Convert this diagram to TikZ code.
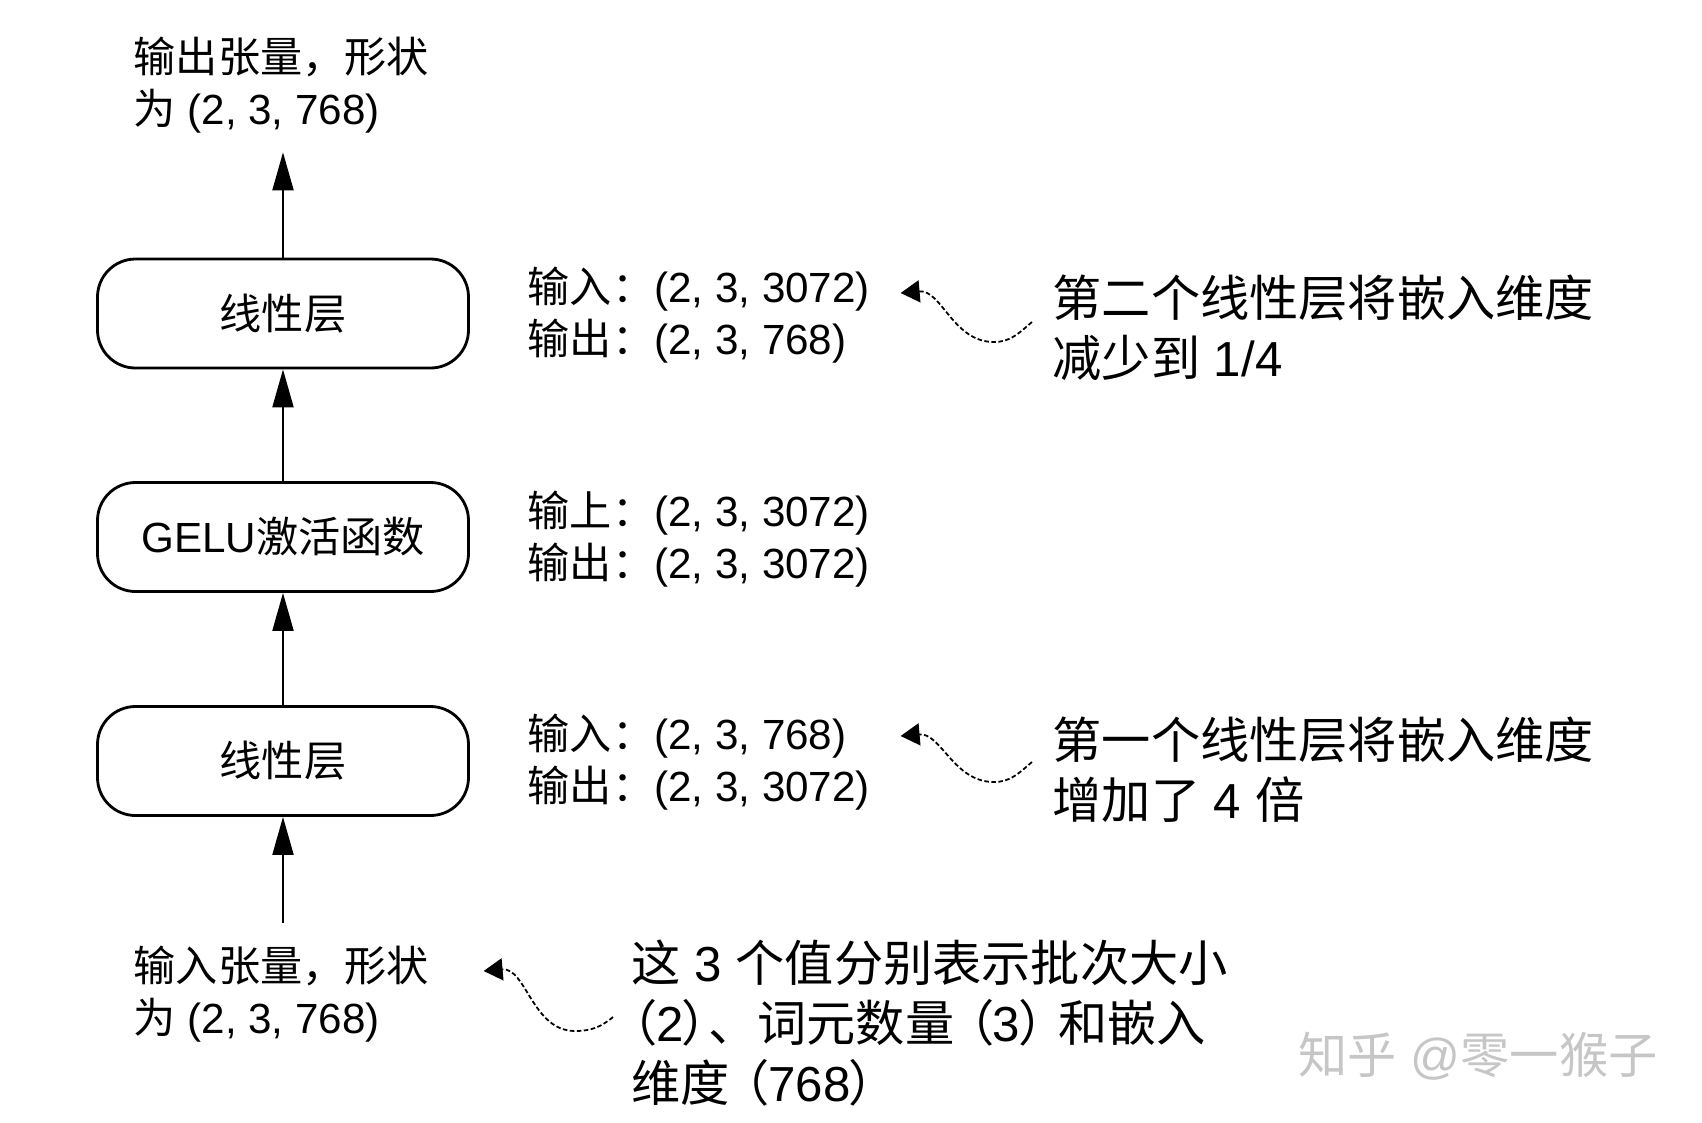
\documentclass[tikz,border=0pt]{standalone}
\usepackage{fontspec}
\setmainfont{Liberation Sans}
\newfontfamily\cjk{Noto Sans CJK SC}
\newfontfamily\cjkp[RawFeature=+palt]{Noto Sans CJK SC}
\newcommand{\zh}[1]{{\cjk #1}}
\newcommand{\zp}[1]{{\cjkp #1}}
\usetikzlibrary{arrows.meta}

\begin{document}
\begin{tikzpicture}[
    box/.style={draw, line width=0.8pt, rounded corners=0.38cm, minimum width=3.71cm, minimum height=1.09cm, font=\fontsize{12}{14.8}\selectfont},
    txt/.style={anchor=west, align=left, inner sep=0pt, font=\fontsize{12}{14.8}\selectfont},
    big/.style={anchor=west, align=left, inner sep=0pt, font=\fontsize{14}{17}\selectfont},
    up/.style={-{Triangle[length=3.8mm,width=2.1mm]}, line width=0.6pt},
    squig/.style={-{Triangle[length=1.9mm,width=2.2mm]}, line width=0.5pt, dash pattern=on 1.3pt off 0.7pt},
  ]
  \useasboundingbox (0,0) rectangle (17.02,-11.22);
  % layers
  \node[box] (lin2) at (2.83,-3.135) {\zh{线性层}};
  \node[box] (gelu) at (2.83,-5.37) {GELU\zh{激活函数}};
  \node[box] (lin1) at (2.83,-7.61) {\zh{线性层}};
  \node[txt] (out) at (1.33,-0.855) {\zh{输出张量，形状}\\\zh{为} (2, 3, 768)};
  \node[txt] (in) at (1.33,-9.94) {\zh{输入张量，形状}\\\zh{为} (2, 3, 768)};
  % shapes
  \node[txt] (a1) at (5.27,-3.15) {\zh{输入：}(2, 3, 3072)\\\zh{输出：}(2, 3, 768)};
  \node[txt] (a2) at (5.27,-5.39) {\zh{输上：}(2, 3, 3072)\\\zh{输出：}(2, 3, 3072)};
  \node[txt] (a3) at (5.27,-7.62) {\zh{输入：}(2, 3, 768)\\\zh{输出：}(2, 3, 3072)};
  % notes
  \node[big] (r1) at (10.52,-3.28) {\zh{第二个线性层将嵌入维度}\\\zh{减少到} 1/4};
  \node[big] (r2) at (10.52,-7.70) {\zh{第一个线性层将嵌入维度}\\\zh{增加了} 4 \zh{倍}};
  \node[big] (r3) at (6.31,-10.23) {\zh{这} 3 \zh{个值分别表示批次大小}\\\zp{（}2\zp{）}\zh{、词元数量}\;\zp{（}3\zp{）}\;\zh{和嵌入}\\\zh{维度}\;\zp{（}768\zp{）}};
  \node[anchor=west, inner sep=0pt, font=\fontsize{14}{16}\selectfont, text=gray!45] (wm) at (12.98,-10.56) {\zh{知乎} @\zh{零一猴子}};
  % flow
  \draw[up] (lin2.north) -- (lin2.north |- out.south) [shorten >=0.18cm];
  \draw[up] (gelu.north) -- (lin2.south);
  \draw[up] (lin1.north) -- (gelu.south);
  \draw[up, shorten <=0.22cm] (lin1.south |- in.north) -- (lin1.south);
  % squiggles
  \coordinate (t1) at ([shift={(0.3,0.22)}]a1.east);
  \coordinate (t3) at ([shift={(0.3,0.26)}]a3.east);
  \coordinate (t0) at ([shift={(0.54,0.23)}]in.east);
  \draw[squig] ([shift={(-0.2,0.06)}]r1.west) to[out=-140,in=0] ++(-0.38,-0.2) to[out=180,in=5] (t1);
  \draw[squig] ([shift={(-0.2,0.08)}]r2.west) to[out=-140,in=0] ++(-0.38,-0.2) to[out=180,in=5] (t3);
  \draw[squig] ([shift={(-0.18,0.06)}]r3.west) to[out=-140,in=0] ++(-0.38,-0.14) to[out=180,in=5] (t0);
\end{tikzpicture}
\end{document}
